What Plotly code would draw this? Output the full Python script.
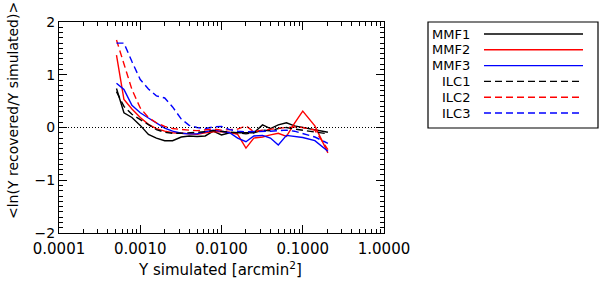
import plotly.graph_objects as go
import numpy as np

# ---- data ----
y_sim = [0.00051, 0.00063, 0.00079, 0.0010, 0.00126, 0.00158, 0.0020, 0.0025,
         0.0032, 0.0040, 0.0050, 0.0063, 0.0079, 0.0100, 0.0126, 0.0158, 0.020,
         0.025, 0.032, 0.040, 0.050, 0.063, 0.079, 0.100, 0.141, 0.204]

mmf1 = [0.74, 0.28, 0.19, 0.04, -0.13, -0.20, -0.25, -0.25, -0.18, -0.16, -0.17, -0.16, -0.07,
        -0.14, -0.10, -0.10, -0.11, -0.10, 0.05, -0.02, 0.05, 0.09, 0.03, 0.00, -0.05, -0.09]
mmf2 = [1.37, 0.53, 0.35, 0.19, 0.06, -0.02, -0.07, -0.10, -0.11, -0.12, -0.13, -0.10, -0.08,
        -0.08, -0.09, -0.13, -0.39, -0.20, -0.18, -0.14, -0.11, -0.17, 0.08, 0.31, 0.03, -0.48]
mmf3 = [0.84, 0.72, 0.42, 0.28, 0.18, 0.09, -0.01, -0.07, -0.11, -0.12, -0.12, -0.08, -0.05,
        -0.07, -0.10, -0.20, -0.27, -0.16, -0.15, -0.20, -0.33, -0.15, -0.17, -0.19, -0.25, -0.45]
ilc1 = [0.68, 0.40, 0.25, 0.15, 0.04, -0.04, -0.09, -0.11, -0.11, -0.10, -0.10, -0.08, -0.06,
        -0.07, -0.08, -0.10, -0.12, -0.10, -0.05, -0.06, -0.02, 0.00, -0.03, -0.05, -0.08, -0.12]
ilc2 = [1.66, 1.22, 0.72, 0.37, 0.19, 0.09, 0.02, -0.02, -0.04, -0.05, -0.06, -0.04, -0.03,
        -0.05, -0.04, -0.03, 0.03, -0.08, -0.05, -0.03, -0.02, 0.00, 0.01, 0.00, -0.05, -0.42]
ilc3 = [1.60, 1.60, 1.25, 0.91, 0.73, 0.60, 0.56, 0.39, 0.16, 0.04, 0.00, -0.02, 0.01,
        0.02, -0.04, -0.07, -0.08, -0.08, -0.08, -0.07, -0.06, -0.05, -0.07, -0.11, -0.18, -0.30]

names = ["MMF1", "MMF2", "MMF3", "ILC1", "ILC2", "ILC3"]
series = [mmf1, mmf2, mmf3, ilc1, ilc2, ilc3]
colors = ["#000000", "#ff0000", "#0000ff", "#000000", "#ff0000", "#0000ff"]
dashes = ["solid", "solid", "solid", "7px,4px", "7px,4px", "7px,4px"]

x_tickvals = [0.0001, 0.001, 0.01, 0.1, 1.0]
x_ticktext = ["0.0001", "0.0010", "0.0100", "0.1000", "1.0000"]
x_title = "Y simulated [arcmin<sup>2</sup>]"
y_title = "&lt;ln(Y recovered/Y simulated)&gt;"

FONT = "DejaVu Sans"

fig = go.Figure()
for name, vals, c, d in zip(names, series, colors, dashes):
    fig.add_trace(go.Scatter(x=y_sim, y=vals, mode="lines", name=name,
                             line=dict(color=c, width=1.4, dash=d), showlegend=False))

# zero reference line
fig.add_shape(type="line", xref="paper", yref="y", x0=0, x1=1, y0=0, y1=0,
              line=dict(color="black", width=1.2, dash="1px,2px"))

minor_x = [m * 10.0 ** e for e in range(-4, 0) for m in range(2, 10)]

fig.update_xaxes(type="log", range=[-4, 0], tickvals=x_tickvals, ticktext=x_ticktext,
                 ticks="inside", ticklen=8, tickcolor="black", showline=True, linecolor="black",
                 linewidth=1, mirror="ticks", showgrid=False, zeroline=False, ticklabelstandoff=2,
                 minor=dict(tickvals=minor_x, ticks="inside", ticklen=4, tickcolor="black", showgrid=False),
                 tickfont=dict(size=15, family=FONT, color="black"))
fig.update_yaxes(range=[-2, 2], tickvals=[-2, -1, 0, 1, 2],
                 ticks="inside", ticklen=8, tickcolor="black", showline=True, linecolor="black",
                 linewidth=1, mirror="ticks", showgrid=False, zeroline=False,
                 minor=dict(dtick=0.1, ticks="inside", ticklen=4, tickcolor="black", showgrid=False),
                 tickfont=dict(size=14, family=FONT, color="black"))

W, H = 600, 285
ml, mr, mt, mb = 59, 216, 22, 52
pw, ph = W - ml - mr, H - mt - mb

def px(xp):
    return (xp - ml) / pw

def py(yp):
    return 1 - (yp - mt) / ph

# axis titles as annotations (positioned like the original)
fig.add_annotation(xref="paper", yref="paper", x=px(220), y=py(269), text=x_title,
                   showarrow=False, xanchor="center", yanchor="middle",
                   font=dict(size=15, family=FONT, color="black"))
fig.add_annotation(xref="paper", yref="paper", x=px(13), y=py(111), text=y_title,
                   showarrow=False, xanchor="center", yanchor="middle", textangle=-90,
                   font=dict(size=14, family=FONT, color="black"))

# manual legend (IDL style: right-aligned labels, line samples on the right)
lx0, ly0, lx1, ly1 = 428, 22, 598, 128
fig.add_shape(type="rect", xref="paper", yref="paper", x0=px(lx0), x1=px(lx1),
              y0=py(ly1), y1=py(ly0), line=dict(color="black", width=1.2))
for i, (name, c, d) in enumerate(zip(names, colors, dashes)):
    yrow = 34 + i * 15.8
    fig.add_annotation(xref="paper", yref="paper", x=px(472), y=py(yrow), text=name,
                       showarrow=False, xanchor="right", yanchor="middle",
                       font=dict(size=13, family=FONT, color="black"))
    fig.add_shape(type="line", xref="paper", yref="paper", x0=px(484), x1=px(583),
                  y0=py(yrow), y1=py(yrow), line=dict(color=c, width=1.4, dash=d))

fig.update_layout(width=W, height=H, margin=dict(l=ml, r=mr, t=mt, b=mb),
                  plot_bgcolor="white", paper_bgcolor="white",
                  font=dict(family=FONT, color="black"))

fig.write_html("out.html", config={"displayModeBar": False},
               post_script="document.body.style.margin='0px';")
